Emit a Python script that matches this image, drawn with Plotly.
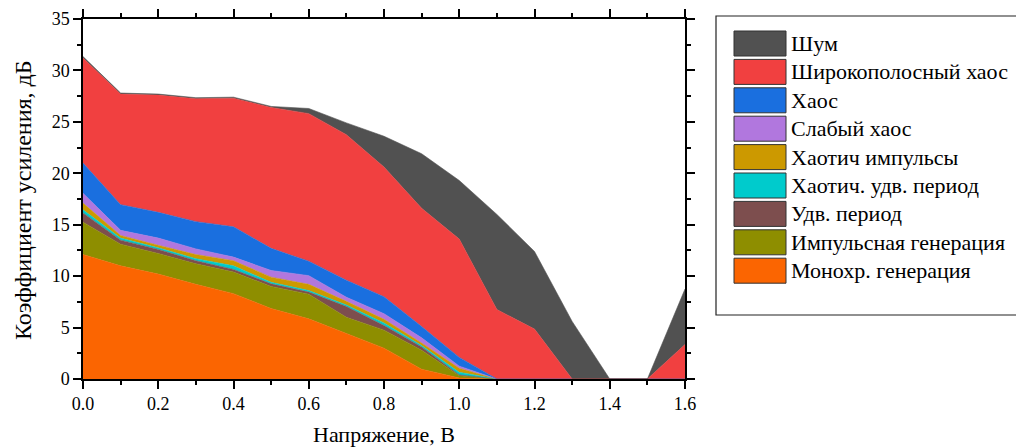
import plotly.graph_objects as go

# ---- data ----
voltage = [0.0, 0.1, 0.2, 0.3, 0.4, 0.5, 0.6, 0.7, 0.8, 0.9, 1.0, 1.1, 1.2, 1.3, 1.4, 1.5, 1.6]

# cumulative tops of every layer
top_mono     = [12.1, 11.0, 10.2, 9.2, 8.3, 6.85, 5.85, 4.4, 3.0, 0.95, 0.1, 0, 0, 0, 0, 0, 0]
top_impulse  = [15.25, 13.1, 12.2, 11.2, 10.4, 9.0, 8.25, 6.0, 4.75, 2.8, 0.32, 0, 0, 0, 0, 0, 0]
top_udv      = [16.15, 13.5, 12.6, 11.5, 10.65, 9.25, 8.45, 7.05, 5.2, 3.12, 0.4, 0, 0, 0, 0, 0, 0]
top_hudv     = [16.45, 13.7, 12.75, 11.7, 11.0, 9.4, 8.6, 7.2, 5.45, 3.25, 0.65, 0, 0, 0, 0, 0, 0]
top_himp     = [17.1, 13.95, 13.0, 12.1, 11.5, 9.9, 9.2, 7.55, 5.8, 3.5, 1.04, 0, 0, 0, 0, 0, 0]
top_weak     = [18.05, 14.45, 13.7, 12.65, 11.85, 10.55, 10.05, 7.95, 6.35, 4.0, 1.25, 0, 0, 0, 0, 0, 0]
top_chaos    = [21.0, 16.95, 16.2, 15.3, 14.8, 12.7, 11.45, 9.6, 8.0, 5.1, 2.1, 0, 0, 0, 0, 0, 0]
top_broad    = [31.2, 27.7, 27.6, 27.25, 27.3, 26.4, 25.8, 23.75, 20.6, 16.6, 13.6, 6.75, 4.85, 0, 0, 0, 3.35]
top_noise    = [31.35, 27.8, 27.7, 27.35, 27.4, 26.5, 26.3, 24.9, 23.6, 21.9, 19.3, 16.0, 12.4, 5.6, 0, 0, 8.75]

names = ["Монохр. генерация", "Импульсная генерация", "Удв. период", "Хаотич. удв. период",
         "Хаотич импульсы", "Слабый хаос", "Хаос", "Широкополосный хаос", "Шум"]
colors = ["#FB6501", "#8E8E00", "#7D4E4E", "#00CBCC", "#CC9900", "#B177DE", "#1A6FDF", "#F14040", "#515151"]
tops = [top_mono, top_impulse, top_udv, top_hudv, top_himp, top_weak, top_chaos, top_broad, top_noise]

FONT = "Liberation Serif, Times New Roman, serif"

fig = go.Figure()
prev = [0] * len(voltage)
for name, col, top in zip(names, colors, tops):
    layer = [max(t - p, 0) for t, p in zip(top, prev)]
    fig.add_trace(go.Scatter(
        x=voltage, y=layer, name=name, mode="lines", stackgroup="one",
        line=dict(color=col, width=0.6), fillcolor=col, showlegend=False,
    ))
    prev = top

# page body adds an 8px offset; positions below are in figure pixels
W, H = 1024, 448
L, R, T, B = 75, 677, 11, 371
pw, ph = R - L, B - T

def px(x):
    return (x - L) / pw

def py(y):
    return (B - y) / ph

shapes = [dict(type="rect", xref="paper", yref="paper",
               x0=px(708), x1=px(1014), y0=py(307), y1=py(8),
               line=dict(color="#222", width=1.2), fillcolor="white", layer="above")]
annotations = []
row0, step = 23, 28.4
for i, (name, col) in enumerate(zip(names[::-1], colors[::-1])):
    y0 = row0 + i * step
    shapes.append(dict(type="rect", xref="paper", yref="paper",
                       x0=px(726), x1=px(778), y0=py(y0 + 25), y1=py(y0),
                       line=dict(color="#333", width=1), fillcolor=col))
    annotations.append(dict(xref="paper", yref="paper", x=px(781), y=py(y0 + 12.5),
                            text=name, showarrow=False, xanchor="left", yanchor="middle",
                            font=dict(family=FONT, size=22, color="black")))

annotations.append(dict(xref="paper", yref="paper", x=0.5, y=py(427),
                        text="Напряжение, В", showarrow=False, xanchor="center", yanchor="middle",
                        font=dict(family=FONT, size=22, color="black")))
annotations.append(dict(xref="paper", yref="paper", x=px(15), y=py(192), textangle=-90,
                        text="Коэффициент усиления, дБ", showarrow=False, xanchor="center", yanchor="middle",
                        font=dict(family=FONT, size=24, color="black")))

axis_common = dict(showline=True, linecolor="black", linewidth=1.5, mirror="ticks",
                   ticks="outside", ticklen=8, tickwidth=1.5, tickcolor="black",
                   showgrid=False, zeroline=False, automargin=False,
                   tickfont=dict(family=FONT, size=18, color="black"))

fig.update_layout(
    width=W, height=H,
    margin=dict(l=L, r=W - R, t=T, b=H - B),
    paper_bgcolor="white", plot_bgcolor="white",
    showlegend=False,
    font=dict(family=FONT, color="black"),
    xaxis=dict(range=[0, 1.6], dtick=0.2, tickformat=".1f",
               minor=dict(dtick=0.1, ticks="outside", ticklen=4, tickwidth=1.5, tickcolor="black"),
               **axis_common),
    yaxis=dict(range=[0, 35], dtick=5,
               minor=dict(dtick=2.5, ticks="outside", ticklen=4, tickwidth=1.5, tickcolor="black"),
               **axis_common),
    shapes=shapes, annotations=annotations,
)

fig.write_html("out.html")
